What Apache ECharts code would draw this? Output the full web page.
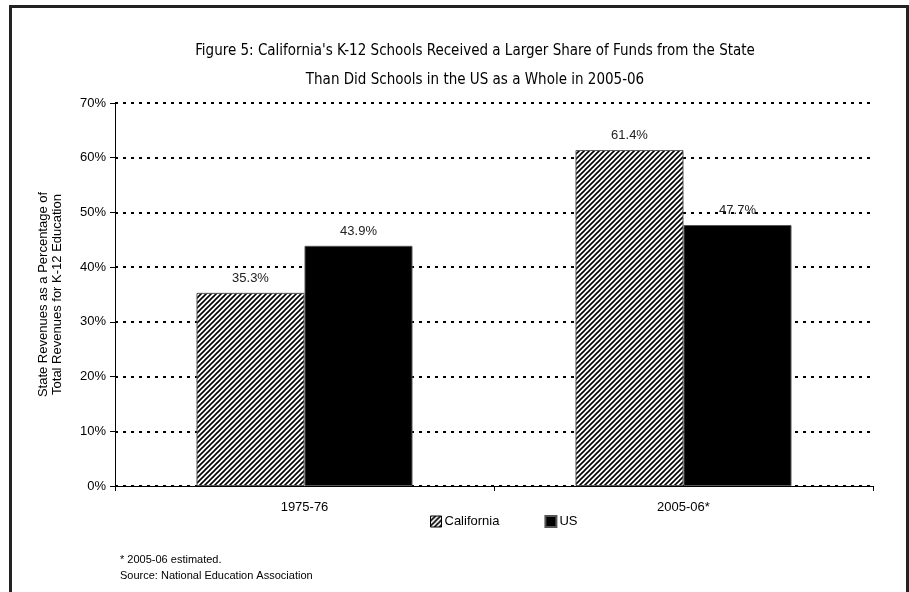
<!DOCTYPE html>
<html>
<head>
<meta charset="utf-8">
<script src="https://cdn.jsdelivr.net/npm/echarts@6/dist/echarts.min.js"></script>
<style>
  html, body { margin: 0; padding: 0; background: #fff; }
  #chart { width: 909px; height: 592px; }
</style>
</head>
<body>
<div id="chart"></div>
<script>
// Share of K-12 revenues coming from the state
const categories = ['1975-76', '2005-06*'];
const californiaValues = [35.3, 61.4];
const usValues = [43.9, 47.7];
const seriesNames = ['California', 'US'];
const yTicks = [0, 10, 20, 30, 40, 50, 60, 70];

// Diagonal hatch fill for the California bars
function hatchPattern() {
  const size = 5;
  const c = document.createElement('canvas');
  c.width = size; c.height = size;
  const ctx = c.getContext('2d');
  ctx.fillStyle = '#fff';
  ctx.fillRect(0, 0, size, size);
  ctx.strokeStyle = '#000';
  ctx.lineWidth = 1.6;
  ctx.beginPath();
  ctx.moveTo(-1, size + 1); ctx.lineTo(size + 1, -1);
  ctx.moveTo(-1, 1); ctx.lineTo(1, -1);
  ctx.moveTo(size - 1, size + 1); ctx.lineTo(size + 1, size - 1);
  ctx.stroke();
  return c;
}
const hatch = { image: hatchPattern(), repeat: 'repeat' };

const baseFont = 'Liberation Sans, Arial, sans-serif';
const titleFont = 'DejaVu Sans Condensed, Liberation Sans, sans-serif';
const chart = echarts.init(document.getElementById('chart'));
chart.setOption({
  animation: false,
  backgroundColor: '#fff',
  title: {
    text: "Figure 5: California's K-12 Schools Received a Larger Share of Funds from the State\nThan Did Schools in the US as a Whole in 2005-06",
    left: 470,
    textAlign: 'center',
    top: 32,
    textStyle: {
      fontFamily: titleFont,
      fontSize: 15,
      fontWeight: 'normal',
      color: '#000',
      lineHeight: 29
    }
  },
  legend: {
    data: [
      { name: 'California', itemStyle: { color: hatch, borderColor: '#000', borderWidth: 1 } },
      { name: 'US', itemStyle: { color: '#000' } }
    ],
    bottom: 59,
    left: 425,
    itemWidth: 11,
    itemHeight: 11,
    itemGap: 45,
    icon: 'rect',
    textStyle: { fontFamily: baseFont, fontSize: 13, color: '#000', padding: [0, 0, 0, -2] }
  },
  grid: { left: 115, right: 36, top: 103, bottom: 106 },
  xAxis: {
    type: 'category',
    data: categories,
    axisLine: { lineStyle: { color: '#000', width: 1 } },
    axisTick: { show: true, length: 5, lineStyle: { color: '#000' } },
    axisLabel: { fontFamily: baseFont, fontSize: 13, color: '#000', margin: 15 }
  },
  yAxis: {
    type: 'value',
    min: 0,
    max: 70,
    interval: 10,
    name: 'State Revenues as a Percentage of\nTotal Revenues for K-12 Education',
    nameLocation: 'middle',
    nameGap: 51,
    nameTextStyle: { fontFamily: baseFont, fontSize: 13, color: '#000', lineHeight: 14 },
    axisLine: { show: true, lineStyle: { color: '#000', width: 1 } },
    axisTick: { show: true, length: 5, lineStyle: { color: '#000' } },
    axisLabel: {
      fontFamily: baseFont, fontSize: 13, color: '#000', margin: 9,
      formatter: v => yTicks.includes(v) ? v + '%' : ''
    },
    splitLine: {
      show: true,
      lineStyle: { color: '#000', width: 2, type: [3, 5] }
    }
  },
  series: [
    {
      name: seriesNames[0],
      type: 'bar',
      data: californiaValues,
      barGap: '0%',
      barCategoryGap: '43%',
      itemStyle: { color: hatch, borderColor: '#555', borderWidth: 1 },
      label: {
        show: true, position: 'top', distance: 8,
        fontFamily: baseFont, fontSize: 13, color: '#222',
        formatter: p => p.value.toFixed(1) + '%'
      }
    },
    {
      name: seriesNames[1],
      type: 'bar',
      data: usValues,
      itemStyle: { color: '#000', borderColor: '#555', borderWidth: 1 },
      label: {
        show: true, position: 'top', distance: 8,
        fontFamily: baseFont, fontSize: 13, color: '#222',
        formatter: p => p.value.toFixed(1) + '%'
      }
    }
  ],
  graphic: [
    {
      type: 'polyline',
      shape: { points: [[10.5, 600], [10.5, 6.5], [907.5, 6.5], [907.5, 600]] },
      style: { stroke: '#222', lineWidth: 3, fill: null }
    },
    {
      type: 'text',
      left: 120,
      top: 552,
      style: {
        text: '* 2005-06 estimated.\nSource: National Education Association',
        fontFamily: baseFont, fontSize: 11, fill: '#000', lineHeight: 16
      }
    }
  ]
});
</script>
</body>
</html>
